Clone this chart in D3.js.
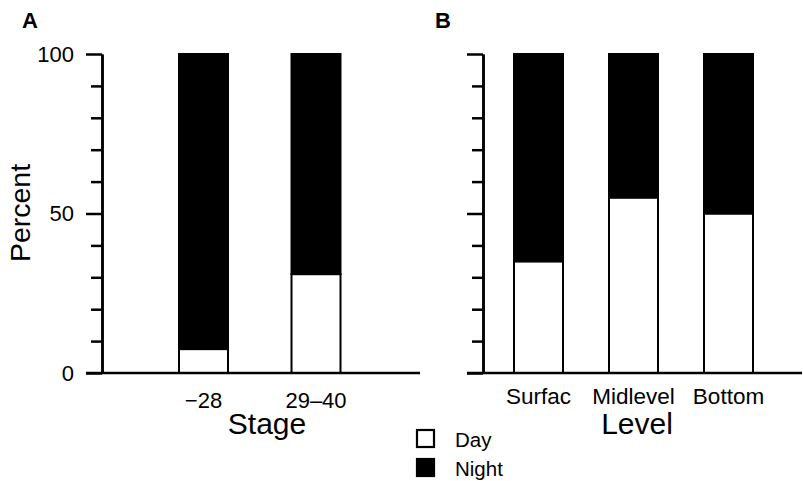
<!DOCTYPE html>
<html>
<head>
<meta charset="utf-8">
<script src="https://cdn.jsdelivr.net/npm/d3@7/dist/d3.min.js"></script>
<style>
  html, body { margin: 0; padding: 0; background: #fff; }
  svg { display: block; font-family: "Liberation Sans", Arial, Helvetica, sans-serif; }
</style>
</head>
<body>
<svg id="chart" width="803" height="481"></svg>
<script>
// Panel A: day/night share by developmental stage
const stageCategories = ["\u221228", "29\u201340"];
const stageDay = [7.5, 31];

// Panel B: day/night share by water-column level
const levelCategories = ["Surfac", "Midlevel", "Bottom"];
const levelDay = [35, 55, 50];

// Axis ticks
const majorTicks = [0, 50, 100];
const minorTicks = [10, 20, 30, 40, 60, 70, 80, 90];

const legendItems = ["Day", "Night"];

const svg = d3.select("#chart");

const y = d3.scaleLinear().domain([0, 100]).range([373, 54]);
const barWidth = 49;

function drawPanel(opts) {
  const g = svg.append("g");
  const x = d3.scalePoint().domain(opts.categories).range(opts.centerRange);

  // bars: white day share at the bottom, black night share above
  const bars = g.selectAll("g.bar").data(opts.categories.map((c, i) => ({ c, day: opts.day[i] })))
    .join("g").attr("class", "bar");
  bars.append("rect")
    .attr("x", d => x(d.c) - barWidth / 2)
    .attr("width", barWidth)
    .attr("y", d => y(d.day))
    .attr("height", d => y(0) - y(d.day))
    .attr("fill", "#fff").attr("stroke", "#000").attr("stroke-width", 2);
  bars.append("rect")
    .attr("x", d => x(d.c) - barWidth / 2)
    .attr("width", barWidth)
    .attr("y", y(100))
    .attr("height", d => y(d.day) - y(100))
    .attr("fill", "#000").attr("stroke", "#000").attr("stroke-width", 2);

  // baseline
  g.append("line")
    .attr("x1", opts.axisX - 16).attr("x2", opts.baseEnd)
    .attr("y1", y(0)).attr("y2", y(0))
    .attr("stroke", "#000").attr("stroke-width", 2.5);

  // y axis: long ticks at 0/50/100, short ticks every 10
  const major = d3.axisLeft(y).tickValues(majorTicks).tickSize(16).tickSizeOuter(0).tickPadding(12)
    .tickFormat(opts.labels ? d3.format("d") : () => "");
  const minor = d3.axisLeft(y).tickValues(minorTicks).tickSize(11).tickSizeOuter(0).tickFormat(() => "");
  const ga = g.append("g").attr("transform", `translate(${opts.axisX},0)`).call(major);
  const gm = g.append("g").attr("transform", `translate(${opts.axisX},0)`).call(minor);
  [ga, gm].forEach(a => {
    a.select(".domain").attr("stroke-width", 2.5);
    a.selectAll(".tick line").attr("stroke-width", 2.5);
  });
  ga.selectAll(".tick text").attr("font-size", 22).attr("fill", "#000")
    .attr("font-family", "Liberation Sans, Arial, sans-serif");

  // category labels
  g.selectAll("text.cat").data(opts.categories).join("text").attr("class", "cat")
    .attr("x", d => x(d)).attr("y", opts.catY)
    .attr("text-anchor", "middle").attr("font-size", opts.catSize).text(d => d);

  // axis title
  g.append("text").attr("x", opts.titleX).attr("y", 434)
    .attr("text-anchor", "middle").attr("font-size", 30).text(opts.title);

  // panel letter
  g.append("text").attr("x", opts.letterX).attr("y", 28)
    .attr("font-size", 22).attr("font-weight", "bold").text(opts.letter);
}

drawPanel({
  categories: stageCategories, day: stageDay, centerRange: [203.5, 316],
  axisX: 102, baseEnd: 420, labels: true, catY: 408, catSize: 22,
  title: "Stage", titleX: 267, letter: "A", letterX: 22
});
drawPanel({
  categories: levelCategories, day: levelDay, centerRange: [538.5, 728.5],
  axisX: 483, baseEnd: 802, labels: false, catY: 404, catSize: 22.5,
  title: "Level", titleX: 637, letter: "B", letterX: 435
});

// y axis title
svg.append("text")
  .attr("transform", "translate(30,213) rotate(-90)")
  .attr("text-anchor", "middle").attr("font-size", 28.5).text("Percent");

// legend
const legend = svg.append("g").attr("transform", "translate(417,430)");
const li = legend.selectAll("g").data(legendItems).join("g")
  .attr("transform", (d, i) => `translate(0,${i * 29})`);
li.append("rect").attr("width", 17).attr("height", 17)
  .attr("fill", (d, i) => i === 0 ? "#fff" : "#000")
  .attr("stroke", "#000").attr("stroke-width", 2.2);
li.append("text").attr("x", 38).attr("y", 17).attr("font-size", 20.5).text(d => d);
</script>
</body>
</html>
